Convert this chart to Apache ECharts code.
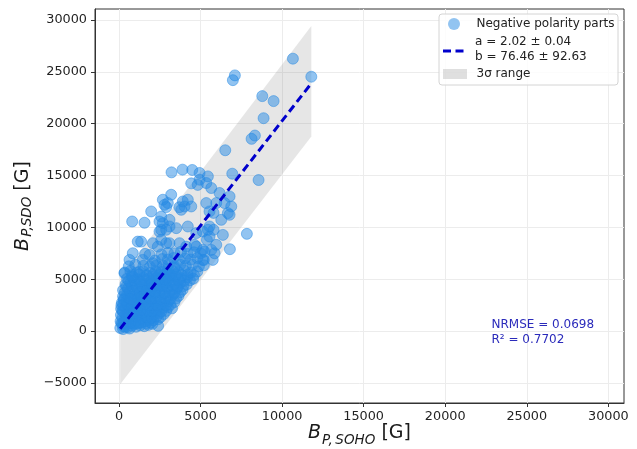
<!DOCTYPE html>
<html><head><meta charset="utf-8">
<script src="https://cdn.jsdelivr.net/npm/echarts@6/dist/echarts.min.js"></script>
<style>html,body{margin:0;padding:0;background:#fff}#c{width:637px;height:449px}</style>
</head><body><div id="c"></div>
<script>
// ---- tick labels ----
const xTicks = [0, 5000, 10000, 15000, 20000, 25000, 30000];
const yTicks = [-5000, 0, 5000, 10000, 15000, 20000, 25000, 30000];

// ---- data: [B_P,SOHO, B_P,SDO] ----
const denseRows = [
  [80,300],[300,450],[550,380],[800,520],[1050,420],[1300,560],[1550,480],[1800,600],[2050,700],[250,200],[650,250],
  [100,950],[350,1050],[600,900],[850,1100],[1100,1000],[1350,1150],[1600,950],[1850,1100],[2100,1050],[2400,1150],
  [120,1550],[380,1650],[650,1500],[900,1700],[1150,1600],[1400,1750],[1650,1550],[1900,1700],[2150,1600],[2450,1700],[2750,1650],
  [130,2150],[400,2300],[650,2100],[900,2250],[1150,2200],[1400,2350],[1650,2150],[1900,2300],[2150,2200],[2400,2350],[2700,2250],[3000,2300],[3250,2200],
  [180,2750],[450,2900],[700,2700],[950,2850],[1200,2800],[1450,2950],[1700,2750],[1950,2900],[2200,2800],[2450,2950],[2750,2850],[3050,2900],[3400,2800],
  [250,3350],[500,3500],[750,3300],[1000,3450],[1300,3400],[1550,3550],[1800,3350],[2100,3500],[2400,3400],[2700,3550],[3000,3400],[3300,3500],[3650,3400],
  [250,3950],[550,4100],[850,3900],[1150,4050],[1450,4000],[1750,4150],[2050,3950],[2350,4100],[2650,4000],[2950,4150],[3250,4000],[3550,4100],[3900,4000],
  [400,4500],[700,4650],[1000,4450],[1300,4600],[1600,4550],[1900,4700],[2200,4500],[2500,4650],[2800,4550],[3100,4700],[3400,4550],[3750,4650],[4150,4500],
  [500,5050],[800,5200],[1150,5000],[1500,5150],[1850,5100],[2150,5250],[2450,5050],[2800,5200],[3100,5100],[3450,5250],[3800,5100],[4200,5200],[4550,5050],
  [350,5650],[700,5800],[1100,5650],[1500,5750],[1900,5600],[2250,5750],[2600,5850],[2950,5650],[3300,5800],[3650,5700],[4000,5850],[4400,5650],[4800,5750],
  [600,6250],[1000,6400],[1500,6300],[1900,6200],[2300,6350],[2700,6300],[3050,6450],[3400,6250],[3750,6400],[4100,6300],[4500,6400],[4900,6250],[5200,6350],
  [2200,6800],[2650,6950],[3000,6900],[3350,7050],[3700,6850],[4050,7000],[4400,6900],[4800,7050],[5200,6850],
  [2600,7400],[3000,7550],[3400,7500],[3800,7650],[4200,7450],[4600,7600],[5000,7500],[1600,7450]
];
const coreFill = [
  [150,750],[450,700],[750,780],[1050,720],[1350,800],[1650,740],[1950,820],
  [200,1300],[500,1350],[800,1280],[1100,1380],[1400,1300],[1700,1350],[2000,1280],[2300,1400],[2550,1350],
  [200,1950],[520,1880],[800,1950],[1050,1900],[1300,1980],[1550,1880],[1800,1950],[2050,1900],[2300,1980],[2600,1900],[2900,1950],
  [250,2500],[550,2550],[800,2450],[1050,2550],[1300,2500],[1550,2580],[1800,2480],[2050,2550],[2350,2500],[2600,2580],[2900,2500],[3150,2550],
  [300,3100],[600,3150],[900,3050],[1150,3150],[1400,3100],[1650,3180],[1950,3080],[2250,3150],[2550,3100],[2850,3180],[3150,3100],[3500,3150],
  [350,3700],[650,3750],[950,3650],[1250,3750],[1550,3700],[1900,3780],[2200,3680],[2500,3750],[2800,3700],[3100,3780],[3400,3700],[3750,3750],
  [450,4300],[800,4350],[1100,4250],[1400,4350],[1750,4300],[2050,4380],[2350,4280],[2650,4350],[2950,4300],[3300,4380],[3600,4300],[3950,4350],
  [600,4850],[950,4900],[1300,4800],[1650,4900],[2000,4850],[2350,4930],[2650,4830],[2950,4900],[3300,4850],[3650,4930],[4000,4850],[4350,4900],
  [800,5400],[1250,5450],[1700,5380],[2100,5450],[2450,5400],[2800,5480],[3150,5380],[3500,5450],[3850,5400],[4200,5450],[4600,5400]
];
const lineCore = [
  [300,800],[600,1300],[900,1900],[1200,2500],[1500,3100],[1800,3700],[2100,4300],[2400,4900],[2700,5400],[3000,6000],
  [500,1500],[800,2000],[1100,2700],[1400,3300],[1700,3900],[2000,4500],[2300,5100],[2600,5700],
  [700,800],[1000,1400],[1300,2000],[1600,2600],[1900,3200],[2200,3800],[2500,4400],[2800,5000],[3100,5500],[3400,6100],
  [200,700],[450,1200],[250,1900],[500,2600],[300,3000],[700,3100],[150,2500],[400,400],[900,700],[1200,800]
];
const scatteredPoints = [
  [10663,26270],[11790,24530],[7105,24660],[6982,24200],[8785,22660],[9479,22180],[8865,20530],[8332,18860],[8129,18540],
  [6515,17440],[6945,15180],[8558,14570],[3221,15310],[3896,15570],[4490,15540],[4940,15250],[5450,14920],[5350,14280],
  [4430,14250],[4940,14600],[4830,14100],[5656,13800],[6166,13320],[5963,12350],[6473,12350],[6780,12990],[6883,12020],
  [6675,11380],[6780,11220],[3200,13150],[2690,12670],[2790,12180],[2995,12350],[3914,12500],[4220,12670],[4020,12020],
  [4430,12020],[3816,11700],[5350,12350],[5550,11540],[1975,11540],[808,10570],[1565,10450],[2485,10570],[3098,10090],
  [2590,9770],[3510,9930],[4220,10090],[4736,9450],[5450,9770],[5550,9120],[6370,9280],[7841,9380],[6800,7900],
  [2075,8480],[2590,8800],[3098,8480],[3712,8480],[4120,8150],[4630,8320],[5140,7830],[5656,7830],[5963,8320],
  [5140,6870],[5750,6870],[2590,11050],[2690,10410],[2895,9770],[2485,9600],[3098,10730],[1150,8630],[1360,8630],
  [847,7510],[1870,7350],[2380,8150],[2895,8480],[645,6870],[1460,6870],[2075,6550],[337,5580],[847,5250],[1258,5730],
  [5550,10090],[5800,9770],[5140,9600],[6270,10730],[5860,7510],[5390,8800],[4740,8150],[5245,7670],[2400,510],
  [3700,11950],[2895,11960],[5800,11400]
];

// ---- fit line and 3-sigma band ----
const fitLineX = [75, 11790];
const fitLineY = [228, 23892];
const bandX = [75, 11790];
const bandUpper = [5160, 29430];
const bandLower = [-5125, 18760];

// ---- texts ----
const legendLabels = ['Negative polarity parts', 'a = 2.02 \u00b1 0.04', 'b = 76.46 \u00b1 92.63', '3\u03c3 range'];
const statsLabels = ['NRMSE = 0.0698', 'R\u00b2 = 0.7702'];

const FONT = 'DejaVu Sans';
const pointColor = '#2589e4';
const fmt = v => v < 0 ? '\u2212' + Math.abs(v) : String(v);

const nameRichX = {
  b: {fontFamily: FONT, fontStyle: 'italic', fontSize: 19, color: '#1a1a1a', verticalAlign: 'top'},
  s: {fontFamily: FONT, fontStyle: 'italic', fontSize: 13.5, color: '#1a1a1a', verticalAlign: 'top', padding: [9, 0, 0, 1]},
  g: {fontFamily: FONT, fontSize: 19, color: '#1a1a1a', verticalAlign: 'top'}
};
const nameRichY = {
  b: {fontFamily: FONT, fontStyle: 'italic', fontSize: 19, color: '#1a1a1a', verticalAlign: 'top'},
  s: {fontFamily: FONT, fontStyle: 'italic', fontSize: 13.5, color: '#1a1a1a', verticalAlign: 'top', padding: [6, 0, 0, 1]},
  g: {fontFamily: FONT, fontSize: 19, color: '#1a1a1a', verticalAlign: 'top'}
};

const chart = echarts.init(document.getElementById('c'), null, {renderer: 'canvas'});
const Z = 100;
const option = {
  animation: false,
  backgroundColor: '#fff',
  grid: {left: 95, right: 13, top: 9, bottom: 46, show: true, borderColor: '#333', borderWidth: 1,
         backgroundColor: 'transparent', containLabel: false, outerBoundsMode: 'none'},
  xAxis: {
    type: 'value', min: -1470, max: 30960,
    name: '{b|B}{s|P,\u2009SOHO}{g| [G]}',
    nameLocation: 'middle', nameGap: 21, nameMoveOverlap: false,
    nameTextStyle: {rich: nameRichX},
    axisLine: {show: true, onZero: false, lineStyle: {color: '#333', width: 1}},
    axisTick: {show: true, length: 4, lineStyle: {color: '#333'}, customValues: xTicks},
    axisLabel: {customValues: xTicks, formatter: fmt, fontFamily: FONT, fontSize: 12.8, color: '#222', margin: 7},
    splitLine: {show: true, lineStyle: {color: '#ececec', width: 1}}
  },
  yAxis: {
    type: 'value', min: -6930, max: 31060,
    name: '{b|B}{s|P,SDO}{g| [G]}',
    nameLocation: 'middle', nameGap: 61, nameMoveOverlap: false,
    nameTextStyle: {rich: nameRichY},
    axisLine: {show: true, onZero: false, lineStyle: {color: '#333', width: 1}},
    axisTick: {show: true, length: 4, lineStyle: {color: '#333'}, customValues: yTicks},
    axisLabel: {customValues: yTicks, formatter: fmt, fontFamily: FONT, fontSize: 12.8, color: '#222', margin: 8},
    splitLine: {show: true, lineStyle: {color: '#ececec', width: 1}}
  },
  series: [
    {
      type: 'custom', silent: true, z: 1,
      data: [[bandX[0], bandLower[0]]],
      renderItem: (params, api) => {
        const pts = [];
        for (let i = 0; i < bandX.length; i++) pts.push(api.coord([bandX[i], bandUpper[i]]));
        for (let i = bandX.length - 1; i >= 0; i--) pts.push(api.coord([bandX[i], bandLower[i]]));
        return {type: 'polygon', shape: {points: pts}, style: {fill: 'rgba(128,128,128,0.2)'}};
      }
    },
    {
      type: 'scatter', z: 2, silent: true,
      data: denseRows.concat(coreFill, lineCore, scatteredPoints),
      symbol: 'circle', symbolSize: 11,
      itemStyle: {color: pointColor, borderColor: pointColor, borderWidth: 1, opacity: 0.5}
    },
    {
      type: 'line', z: 3, silent: true, symbol: 'none',
      data: fitLineX.map((x, i) => [x, fitLineY[i]]),
      lineStyle: {color: '#0000cc', width: 3, type: [8, 4.5]}
    }
  ],
  graphic: [
    {type: 'rect', z: Z, shape: {x: 439, y: 14, width: 179, height: 71, r: 3}, style: {fill: 'rgba(255,255,255,0.85)', stroke: '#d4d4d4', lineWidth: 1}},
    {type: 'circle', z: Z + 1, shape: {cx: 454, cy: 24, r: 6}, style: {fill: pointColor, opacity: 0.5}},
    {type: 'text', z: Z + 1, style: {text: legendLabels[0], x: 476.5, y: 24, verticalAlign: 'middle', font: '12px "DejaVu Sans"', fill: '#222'}},
    {type: 'line', z: Z + 1, shape: {x1: 443, y1: 51, x2: 467, y2: 51}, style: {stroke: '#0000cc', lineWidth: 3, lineDash: [8, 4.5]}},
    {type: 'text', z: Z + 1, style: {text: legendLabels[1], x: 475, y: 42, verticalAlign: 'middle', font: '12px "DejaVu Sans"', fill: '#222'}},
    {type: 'text', z: Z + 1, style: {text: legendLabels[2], x: 475, y: 57, verticalAlign: 'middle', font: '12px "DejaVu Sans"', fill: '#222'}},
    {type: 'rect', z: Z + 1, shape: {x: 443, y: 69, width: 24, height: 10}, style: {fill: 'rgba(128,128,128,0.25)'}},
    {type: 'text', z: Z + 1, style: {text: legendLabels[3], x: 476.5, y: 74, verticalAlign: 'middle', font: '12px "DejaVu Sans"', fill: '#222'}},
    {type: 'text', z: Z, style: {text: statsLabels[0], x: 491.5, y: 325, verticalAlign: 'middle', font: '12px "DejaVu Sans"', fill: '#2b2bbb'}},
    {type: 'text', z: Z, style: {text: statsLabels[1], x: 491.5, y: 340, verticalAlign: 'middle', font: '12px "DejaVu Sans"', fill: '#2b2bbb'}}
  ]
};
chart.setOption(option);
</script>
</body></html>
